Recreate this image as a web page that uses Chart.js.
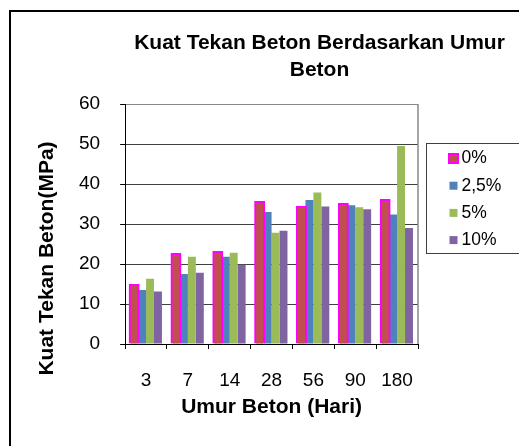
<!DOCTYPE html>
<html>
<head>
<meta charset="utf-8">
<script src="https://cdn.jsdelivr.net/npm/chart.js@4.4.1/dist/chart.umd.min.js"></script>
<style>
  html, body { margin: 0; padding: 0; background: #fff; overflow: hidden; }
  canvas { display: block; }
</style>
</head>
<body>
<canvas id="betonChart" width="519" height="446"></canvas>
<script>
// data
const umurHari = ['3', '7', '14', '28', '56', '90', '180'];
const kadar0 = [14.6, 22.4, 22.9, 35.4, 34.2, 34.9, 35.9];
const kadar25 = [13.5, 17.5, 21.8, 33, 36, 34.7, 32.4];
const kadar5 = [16.3, 21.8, 22.8, 27.8, 37.9, 34.2, 49.5];
const kadar10 = [13.1, 17.8, 19.8, 28.3, 34.4, 33.7, 29];
const yTicks = [0, 10, 20, 30, 40, 50, 60];
const judulY = 'Kuat Tekan Beton(MPa)';

Chart.defaults.font.family = '"Liberation Sans", Arial, sans-serif';
Chart.defaults.color = '#000';

const bingkai = {
  id: 'bingkai',
  afterLayout(chart) {
    // judul di tengah bingkai asli yang lebih lebar dari kanvas
    chart.titleBlock.left = 0;
    chart.titleBlock.right = 639;
  },
  beforeDraw(chart) {
    const ctx = chart.ctx;
    ctx.save();
    ctx.fillStyle = '#fff';
    ctx.fillRect(0, 0, chart.width, chart.height);
    ctx.strokeStyle = '#000';
    ctx.lineWidth = 2;
    ctx.strokeRect(10, 11, 700, 600);
    ctx.restore();
  },
  afterDraw(chart) {
    const ctx = chart.ctx;
    const a = chart.chartArea;
    ctx.save();
    ctx.strokeStyle = '#888';
    ctx.lineWidth = 1.5;
    ctx.beginPath();
    ctx.moveTo(a.right, a.top);
    ctx.lineTo(a.right, a.bottom);
    ctx.stroke();
    // judul sumbu y, agak turun seperti di excel
    ctx.translate(47, 258.5);
    ctx.rotate(-Math.PI / 2);
    ctx.font = 'bold 21px "Liberation Sans", Arial, sans-serif';
    ctx.fillStyle = '#000';
    ctx.textAlign = 'center';
    ctx.textBaseline = 'middle';
    ctx.fillText(judulY, 0, 0);
    ctx.restore();
  }
};

const legendaKanan = {
  id: 'legendaKanan',
  afterDraw(chart) {
    const ctx = chart.ctx;
    ctx.save();
    ctx.strokeStyle = '#404040';
    ctx.lineWidth = 1;
    ctx.strokeRect(426.5, 143.5, 120, 110);
    ctx.font = '17.5px "Liberation Sans", Arial, sans-serif';
    ctx.textBaseline = 'middle';
    chart.data.datasets.forEach((ds, i) => {
      const cy = 158.5 + i * 27.2;
      if (ds.borderWidth) {
        ctx.fillStyle = ds.borderColor;
        ctx.fillRect(448, cy - 5.5, 11, 11);
        ctx.fillStyle = ds.backgroundColor;
        ctx.fillRect(450, cy - 3.5, 7, 7);
      } else {
        ctx.fillStyle = ds.backgroundColor;
        ctx.fillRect(449.5, cy - 4, 8, 8);
      }
      ctx.fillStyle = '#000';
      ctx.fillText(ds.label, 461.5, cy);
    });
    ctx.restore();
  }
};

new Chart(document.getElementById('betonChart'), {
  type: 'bar',
  data: {
    labels: umurHari,
    datasets: [
      { label: '0%', data: kadar0, backgroundColor: '#C0504D', borderColor: '#FF00FF', borderWidth: 2, inflateAmount: 1.5 },
      { label: '2,5%', data: kadar25, backgroundColor: '#4F81BD', borderWidth: 0 },
      { label: '5%', data: kadar5, backgroundColor: '#9BBB59', borderWidth: 0 },
      { label: '10%', data: kadar10, backgroundColor: '#8064A2', borderWidth: 0 }
    ]
  },
  options: {
    responsive: false,
    animation: false,
    categoryPercentage: 0.76,
    barPercentage: 1,
    layout: { padding: { left: 59, right: 101, top: 0, bottom: 26 } },
    plugins: {
      legend: { display: false },
      tooltip: { enabled: false },
      title: {
        display: true,
        text: ['Kuat Tekan Beton Berdasarkan Umur', 'Beton'],
        color: '#000',
        font: { size: 21, weight: 'bold', lineHeight: 1.286 },
        padding: { top: 30, bottom: 20 }
      }
    },
    scales: {
      x: {
        grid: { display: true, drawOnChartArea: false, drawTicks: true, tickLength: 5, color: '#000', offset: true },
        border: { color: '#000', width: 1 },
        ticks: { color: '#000', font: { size: 19 }, padding: 20 },
        title: {
          display: true,
          text: 'Umur Beton (Hari)',
          color: '#000',
          font: { size: 21, weight: 'bold' },
          padding: { top: -17, bottom: 0 }
        }
      },
      y: {
        min: 0,
        max: 60,
        afterBuildTicks: s => { s.ticks = yTicks.map(v => ({ value: v })); },
        grid: {
          color: c => (c.tick && c.tick.value === 60) ? '#888' : '#404040',
          tickColor: '#000',
          tickLength: 5
        },
        border: { color: '#000', width: 1 },
        ticks: { color: '#000', font: { size: 19 }, padding: 20 }
      }
    }
  },
  plugins: [bingkai, legendaKanan]
});
</script>
</body>
</html>
